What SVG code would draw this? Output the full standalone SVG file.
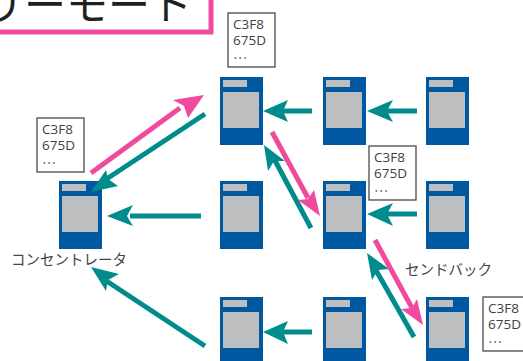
<svg xmlns="http://www.w3.org/2000/svg" width="523" height="361" viewBox="0 0 523 361">
<style>
.bg{fill:#fff}
.body{fill:#0058a0}
.scr{fill:#bcbec0}
.note{fill:#fff;stroke:#4a4a4a;stroke-width:1.3}
.t{font-family:"Open Sans","Liberation Sans",sans-serif;font-size:13.500px;fill:#3f3f3f}
.d{font-family:"Noto Sans CJK JP",sans-serif;font-size:13px}
.jp{font-family:"Noto Sans CJK JP",sans-serif;font-size:14.500px;fill:#444}
.g{stroke:#008c8c;stroke-width:5;fill:none}
.p{stroke:#f04a9e;stroke-width:5;fill:none}
.gh{fill:#008c8c}
.ph{fill:#f04a9e}
</style>
<defs>
<g id="srv"><rect class="body" width="43" height="68"/><rect class="scr" x="3" y="3" width="24" height="7"/><rect class="scr" x="3" y="15" width="36" height="36"/></g>
</defs>
<rect class="bg" width="523" height="361"/>
<g id="title"><rect x="-20" y="-20" width="231" height="52" fill="#fff" stroke="#f04a9e" stroke-width="5"/>
<text x="-18" y="20" font-family="'Noto Sans CJK JP',sans-serif" font-size="42" fill="#231f20">リーモート</text></g>
<g id="coordinator"><use href="#srv" x="59" y="181"/><text class="jp" x="11" y="265">コンセントレータ</text></g>
<g id="n11"><use href="#srv" x="220" y="77"/></g>
<g id="n12"><use href="#srv" x="323" y="77"/></g>
<g id="n13"><use href="#srv" x="426" y="77"/></g>
<g id="n21"><use href="#srv" x="220" y="181"/></g>
<g id="n22"><use href="#srv" x="323" y="181"/></g>
<g id="n23"><use href="#srv" x="426" y="181"/></g>
<g id="n31"><use href="#srv" x="220" y="297"/></g>
<g id="n32"><use href="#srv" x="323" y="297"/></g>
<g id="n33"><use href="#srv" x="426" y="297"/></g>
<g id="note1"><rect class="note" x="37" y="118" width="47" height="54"/><text class="t"><tspan x="42" y="134">C3F8</tspan><tspan x="42" y="150">675D</tspan><tspan class="d" x="42" y="164">…</tspan></text></g>
<g id="note2"><rect class="note" x="228" y="13" width="47" height="54"/><text class="t"><tspan x="233" y="29">C3F8</tspan><tspan x="233" y="45">675D</tspan><tspan class="d" x="233" y="59">…</tspan></text></g>
<g id="note3"><rect class="note" x="369" y="146" width="47" height="54"/><text class="t"><tspan x="374" y="162">C3F8</tspan><tspan x="374" y="178">675D</tspan><tspan class="d" x="374" y="192">…</tspan></text></g>
<g id="note4"><rect class="note" x="483" y="297" width="47" height="54"/><text class="t"><tspan x="488" y="313">C3F8</tspan><tspan x="488" y="329">675D</tspan><tspan class="d" x="488" y="343">…</tspan></text></g>
<text class="jp" x="405" y="275" id="sendback">センドバック</text>
<g id="connectors">
<path class="g" d="M312 111H280"/><polygon class="gh" points="263,111 288,100 283,111 288,122"/>
<path class="g" d="M417 111H385"/><polygon class="gh" points="367,111 393,100 387,111 393,122"/>
<path class="g" d="M417 214H385"/><polygon class="gh" points="367,214 393,203 387,214 393,226"/>
<path class="g" d="M312 332H280"/><polygon class="gh" points="263,332 288,321 283,332 288,344"/>
<path class="g" d="M201 216H130"/><polygon class="gh" points="107,216 133,205 127,216 133,226"/>
<path class="g" d="M205 114L105 180"/><polygon class="gh" points="91,192 106,170 108,179 118,186"/>
<path class="g" d="M205 346L105 280"/><polygon class="gh" points="91,267 119,274 108,280 106,291"/>
<path class="g" d="M311 228L272 155"/><polygon class="gh" points="264,145 285,161 274,161 268,171"/>
<path class="g" d="M414 337L373 265"/><polygon class="gh" points="367,253 389,269 378,270 372,280"/>
<path class="p" d="M91 173L180 108"/><polygon class="ph" points="204,95 188,118 184,106 173,100"/>
<path class="p" d="M272 132L308 198"/><polygon class="ph" points="320,216 298,200 308,199 314,190"/>
<path class="p" d="M375 240L412 308"/><polygon class="ph" points="423,325 401,309 412,308 417,299"/>
</g>
</svg>
